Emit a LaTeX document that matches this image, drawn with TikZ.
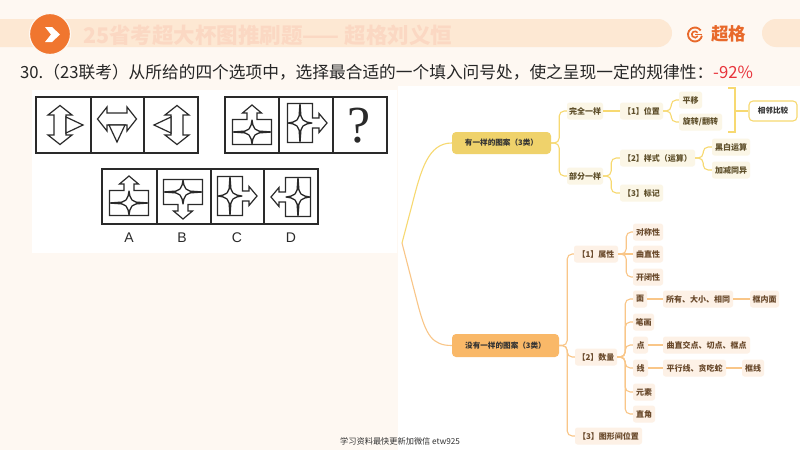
\documentclass[tikz,border=0pt]{standalone}
\usepackage{fontspec}
\setmainfont{Noto Sans CJK SC}
\newfontfamily\latinfont{Liberation Serif}
\newfontfamily\optfont{Liberation Sans}
\usetikzlibrary{calc}
\definecolor{pagebg}{HTML}{FEF8F2}
\definecolor{bandc}{HTML}{FDE8D3}
\definecolor{titlec}{HTML}{FBD8C3}
\definecolor{orangec}{HTML}{F0762F}
\definecolor{logoc}{HTML}{E8692B}
\definecolor{ylin}{HTML}{F7D971}
\definecolor{olin}{HTML}{F9C688}
\definecolor{yroot}{HTML}{EFD26B}
\definecolor{oroot}{HTML}{F9B868}
\definecolor{ychild}{HTML}{FBF6E6}
\definecolor{ochild}{HTML}{FDF1E6}
\definecolor{ytext}{HTML}{5E4F2A}
\definecolor{otext}{HTML}{6A4A2C}
\definecolor{fig}{HTML}{2A2A2A}
\definecolor{redc}{HTML}{E8333B}
\tikzset{
  x=1pt,y=-1pt,
  panel/.style={draw=fig,line width=1.3pt},
  figline/.style={draw=fig,line width=1.2pt,line join=miter,fill=white},
  opt/.style={font=\optfont\fontsize{14}{14}\selectfont,text=fig},
  basebox/.style={rounded corners=2.5pt,inner sep=0pt,minimum height=17pt,font=\bfseries\fontsize{8}{9}\selectfont},
  ynode/.style={basebox,fill=ychild,text=ytext},
  onode/.style={basebox,fill=ochild,text=otext},
  yroot box/.style={basebox,fill=yroot,text=black!80,rounded corners=4pt,minimum height=22pt,font=\bfseries\fontsize{7.6}{9}\selectfont},
  oroot box/.style={basebox,fill=oroot,text=black!80,rounded corners=4pt,minimum height=23pt,font=\bfseries\fontsize{7.6}{9}\selectfont},
  ywire/.style={draw=ylin,line width=1.1pt,rounded corners=5pt},
  owire/.style={draw=olin,line width=1.1pt,rounded corners=5pt},
  dblarrow/.pic={
    \path[figline] (0,-19.5)--(12,-10)--(6,-10)--(6,10)--(12,10)--(0,19.5)--(-12,10)--(-6,10)--(-6,-10)--(-12,-10)--cycle;
    \path[figline] (6,-8)--(23,0)--(6,8)--cycle;
  },
  boxarrow/.pic={
    \path[figline] (-19.5,-12.5)--(-5,-12.5)--(-5,-19)--(-9.5,-19)--(0,-27)--(9.5,-19)--(5,-19)--(5,-12.5)--(19.5,-12.5)--(19.5,12.5)--(-19.5,12.5)--cycle;
    \path[draw=fig,fill=white,line width=1.3pt,line join=round]
      (-19.5,0)--(-7,-0.9)--(-3,-3)--(-0.9,-7)--(0,-12)--(0.9,-7)--(3,-3)--(7,-0.9)--(19.5,0)
      --(7,0.9)--(3,3)--(0.9,7)--(0,12)--(-0.9,7)--(-3,3)--(-7,0.9)--cycle;
  },
}
\newcommand{\ybr}[2]{\draw[ywire] (#1.east) -- ([xshift=8pt]#1.east) |- (#2.west);}
\newcommand{\obr}[2]{\draw[owire] (#1.east) -- ([xshift=8pt]#1.east) |- (#2.west);}
\begin{document}
\begin{tikzpicture}
\useasboundingbox (0,0) rectangle (800,450);
\fill[pagebg] (0,0) rectangle (800,450);
\fill[white] (398,86) rectangle (800,450);
\fill[white] (32,90) rectangle (397,253);
% header
\begin{scope}
\clip (0,0) rectangle (800,450);
\fill[bandc,rounded corners=14pt] (-30,19) rectangle (672,47);
\fill[bandc,rounded corners=14pt] (762,19) rectangle (830,47);
\end{scope}
\node[circle,fill=orangec,draw=pagebg,line width=1.2pt,minimum size=41pt,inner sep=0pt] (badge) at (50,34) {};
\fill[white] (45,27) -- (52,27) -- (60,34.5) -- (52,42) -- (45,42) -- (51,34.5) -- cycle;
\node[anchor=west,inner sep=0pt,text=titlec,font=\bfseries\fontsize{21.5}{22}\selectfont] (title) at (83,35) {25省考超大杯图推刷题—— 超格刘义恒};
\begin{scope}[shift={(695,34.5)},y=1pt]
\draw[logoc,line width=1.8pt] (35:7) arc[start angle=35,end angle=350,radius=7];
\draw[logoc,line width=1.6pt] (35:3.2) arc[start angle=35,end angle=330,radius=3.2];
\draw[logoc,line width=1.6pt] (0,0) -- (7,0);
\end{scope}
\node[anchor=west,inner sep=0pt,text=logoc,font=\bfseries\fontsize{17.5}{18}\selectfont] (logo) at (711,34) {超格};
\node[anchor=west,inner sep=0pt,text=black!85,font=\fontsize{16.7}{17}\selectfont] (question) at (20,72) {30.（23联考）从所给的四个选项中，选择最合适的一个填入问号处，使之呈现一定的规律性：\textcolor{redc}{-92\%}};
% puzzle row
\draw[panel] (36,97) rectangle (198,153);
\draw[panel] (91,97) -- (91,153) (144,97) -- (144,153);
\pic at (60,125) {dblarrow};
\pic[rotate=-90] at (117,119) {dblarrow};
\pic[rotate=180] at (177,125) {dblarrow};
\draw[panel] (225,97) rectangle (387,153);
\draw[panel] (279,97) -- (279,153) (333,97) -- (333,153);
\pic at (252,132) {boxarrow};
\pic[rotate=-90] at (300,123) {boxarrow};
\node[inner sep=0pt,font=\latinfont\fontsize{52}{52}\selectfont,text=fig] (qm) at (359,126) {?};
% options
\draw[panel] (102,169) rectangle (318,224);
\draw[panel] (157,169) -- (157,224) (211,169) -- (211,224) (264,169) -- (264,224);
\pic at (129,203) {boxarrow};
\pic[rotate=180] at (183,192) {boxarrow};
\pic[rotate=-90] at (230,196) {boxarrow};
\pic[rotate=90] at (298,197) {boxarrow};
\node[opt] (la) at (129,238) {A};
\node[opt] (lb) at (182,238) {B};
\node[opt] (lc) at (237,238) {C};
\node[opt] (ld) at (291,238) {D};
% mind map nodes: yellow
\coordinate (root) at (402,243);
\node[yroot box,minimum width=99pt] (yes) at (501.5,143) {有一样的图案（3类）};
\node[ynode,minimum width=36pt] (wq) at (585,111) {完全一样};
\node[ynode,minimum width=43pt] (wz) at (641.5,111) {【1】位置};
\node[ynode,minimum width=23pt] (py) at (690.5,100) {平移};
\node[ynode,minimum width=43pt] (xz) at (700.5,122) {旋转/翻转};
\node[draw=ylin,line width=1.1pt,rounded corners=4pt,fill=white,inner sep=0pt,minimum width=48pt,minimum height=20pt,font=\bfseries\fontsize{7.6}{9}\selectfont,text=black!80] (xl) at (773,111) {相邻比较};
\node[ynode,minimum width=36pt] (bf) at (585,176) {部分一样};
\node[ynode,minimum width=75pt] (ys) at (657.5,158) {【2】样式（运算）};
\node[ynode,minimum width=38pt] (hb) at (731,147) {黑白运算};
\node[ynode,minimum width=38pt] (jj) at (731,170) {加减同异};
\node[ynode,minimum width=43pt] (bj) at (641.5,193) {【3】标记};
% orange
\node[oroot box,minimum width=107pt] (no) at (505.5,345.5) {没有一样的图案（3类）};
\node[onode,minimum width=44pt] (sx) at (596,254) {【1】属性};
\node[onode,minimum width=30pt] (dc) at (648,232) {对称性};
\node[onode,minimum width=30pt] (qz) at (648,254) {曲直性};
\node[onode,minimum width=30pt] (kb) at (648,277) {开闭性};
\node[onode,minimum width=42pt] (sl) at (596,357) {【2】数量};
\node[onode,minimum width=14pt] (mian) at (640,299) {面};
\node[onode,minimum width=70pt] (sy) at (698,299) {所有、大小、相同};
\node[onode,minimum width=29pt] (kn) at (764.5,299) {框内面};
\node[onode,minimum width=21pt] (bh) at (643.5,322) {笔画};
\node[onode,minimum width=15pt] (dian) at (640.5,345) {点};
\node[onode,minimum width=87pt] (qj) at (706.5,345) {曲直交点、切点、框点};
\node[onode,minimum width=15pt] (xian) at (640.5,368) {线};
\node[onode,minimum width=63pt] (px) at (694.5,368) {平行线、贪吃蛇};
\node[onode,minimum width=22pt] (kx) at (753,368) {框线};
\node[onode,minimum width=22pt] (ys2) at (644,392) {元素};
\node[onode,minimum width=22pt] (zj) at (644,414) {直角};
\node[onode,minimum width=67pt] (wz3) at (608.5,436) {【3】图形间位置};
\node[anchor=west,inner sep=0pt,text=black!80,font=\fontsize{8.2}{9}\selectfont] (wm) at (340,441) {学习资料最快更新加微信 etw925};
% connectors
\draw[ylin,line width=1.1pt] (root) -- (412,205) .. controls (421,170) and (428,143) .. (yes.west);
\draw[olin,line width=1.1pt] (root) -- (418,305) .. controls (426,335) and (432,345.5) .. (no.west);
\ybr{yes}{wq} \ybr{yes}{bf}
\draw[ywire] (wq) -- (wz);
\ybr{wz}{py} \ybr{wz}{xz}
\ybr{bf}{ys} \ybr{bf}{bj}
\ybr{ys}{hb} \ybr{ys}{jj}
\coordinate (brt) at (728,88);
\coordinate (brb) at (728,132);
\draw[draw=ylin,line width=1.2pt] (brt) -- (735,88) -- (735,132) -- (brb);
\draw[draw=ylin,line width=1.2pt] (735,111) -- (xl.west);
\obr{no}{sx} \obr{no}{sl} \obr{no}{wz3}
\obr{sx}{dc} \obr{sx}{kb}
\draw[owire] (sx) -- (qz);
\obr{sl}{mian} \obr{sl}{bh} \obr{sl}{dian} \obr{sl}{xian} \obr{sl}{ys2} \obr{sl}{zj}
\draw[owire] (mian) -- (sy);
\draw[owire] (sy) -- (kn);
\draw[owire] (dian) -- (qj);
\draw[owire] (xian) -- (px);
\draw[owire] (px) -- (kx);
\end{tikzpicture}
\end{document}
